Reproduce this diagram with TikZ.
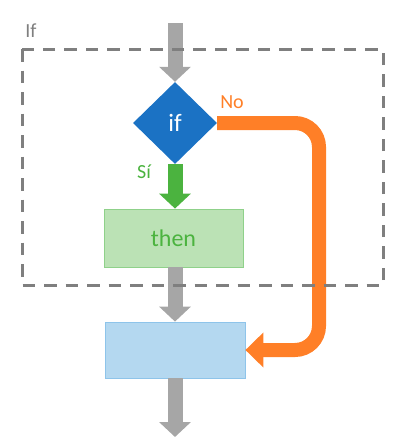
\documentclass[tikz,border=0pt]{standalone}
\usepackage{fontspec}
\setmainfont{Carlito}
\usetikzlibrary{shapes.geometric,arrows.meta}
\definecolor{arrgray}{HTML}{A6A6A6}
\definecolor{dashgray}{HTML}{7F7F7F}
\definecolor{ifblue}{HTML}{1B72C4}
\definecolor{orng}{HTML}{FF7F27}
\definecolor{grn}{HTML}{4BB33F}
\definecolor{grnfill}{HTML}{BBE2B5}
\definecolor{grnline}{HTML}{8FD18A}
\definecolor{bluefill}{HTML}{B4D8F0}
\definecolor{blueline}{HTML}{8EC4EA}
\tikzset{
  blockarrow/.style={line width=15pt,-{Triangle[width=31pt,length=15pt]}},
  procbox/.style={rectangle,inner sep=0pt,line width=0.8pt},
}
\begin{document}
\begin{tikzpicture}[x=1pt,y=-1pt]
\useasboundingbox (0,0) rectangle (414,448);
\coordinate (start) at (175,23);
\coordinate (endpt) at (175,437);
\node[diamond,fill=ifblue,inner sep=0pt,minimum width=84pt,minimum height=82pt,
  text=white,font=\fontsize{25}{25}\selectfont] (cond) at (175,123) {if};
\node[procbox,fill=grnfill,draw=grnline,minimum width=139pt,minimum height=58pt,
  text=grn,font=\fontsize{24}{24}\selectfont] (then) at (173.5,238) {then};
\node[procbox,fill=bluefill,draw=blueline,minimum width=140pt,minimum height=56pt] (next) at (175,350) {};
\draw[blockarrow,arrgray] (start) -- (cond.north);
\draw[blockarrow,grn] (cond.south) -- (then.north -| cond.south);
\draw[blockarrow,arrgray] (then.south -| cond.south) -- (next.north);
\draw[blockarrow,arrgray] (next.south) -- (endpt);
\draw[line width=14pt,orng,rounded corners=24pt,-{Triangle[width=34pt,length=18pt]}]
  (cond.east) -- (319,123) -- (319,350) -- (next.east);
\node[text=orng,font=\fontsize{20}{20}\selectfont] (nolab) at (232,102) {No};
\node[text=grn,font=\fontsize{20}{20}\selectfont] (silab) at (144,172) {Sí};
\node[text=dashgray,font=\fontsize{20}{20}\selectfont] (iflab) at (31,31) {If};
\draw[dashgray,line width=3pt,dash pattern=on 12.5pt off 9pt] (22,49) rectangle (383,285);
\end{tikzpicture}
\end{document}
